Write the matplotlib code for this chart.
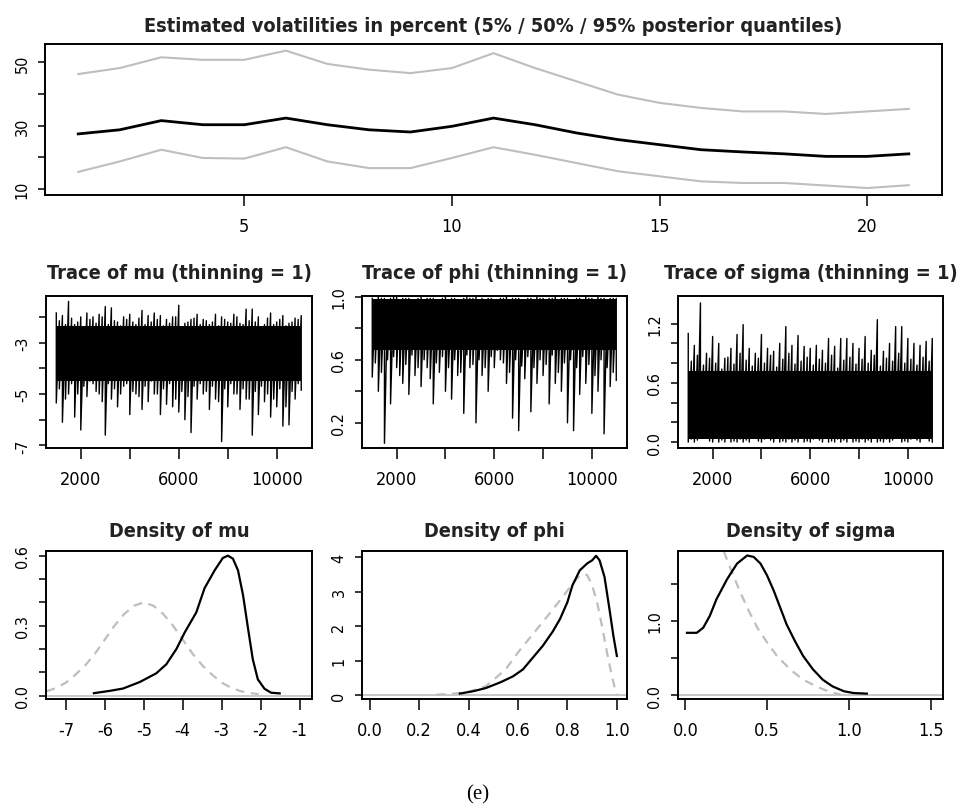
import numpy as np
import matplotlib
matplotlib.use('Agg')
import matplotlib.pyplot as plt
from matplotlib import font_manager

# the reference uses a narrow sans; take a condensed face if one is installed
names = {f.name for f in font_manager.fontManager.ttflist}
narrow = [n for n in ['Liberation Sans Narrow', 'DejaVu Sans Condensed'] if n in names]
plt.rcParams['font.family'] = narrow + ['DejaVu Sans']
plt.rcParams['font.stretch'] = 'condensed'
plt.rcParams['axes.unicode_minus'] = False

#%% Data
# volatility quantiles in percent, time points 1..21
vol_t = np.arange(1, 22)
vol_q05 = [15.4, 18.7, 22.4, 19.8, 19.6, 23.2, 18.7, 16.6, 16.6, 19.8, 23.2,
           20.8, 18.2, 15.6, 14.0, 12.4, 11.9, 11.9, 11.1, 10.3, 11.2]
vol_q50 = [27.4, 28.7, 31.6, 30.3, 30.3, 32.4, 30.3, 28.7, 28.0, 29.8, 32.4,
           30.3, 27.7, 25.6, 24.0, 22.4, 21.7, 21.1, 20.3, 20.3, 21.1]
vol_q95 = [46.3, 48.2, 51.6, 50.8, 50.8, 53.7, 49.5, 47.7, 46.6, 48.2, 52.9,
           48.2, 44.0, 39.8, 37.2, 35.6, 34.5, 34.5, 33.7, 34.5, 35.3]

# trace envelopes: max / min of the draws in each block of 125 iterations
trace_iter = np.arange(1000, 11001, 125)
mu_hi = [-1.85, -2.15, -1.95, -2.30, -1.40, -2.05, -2.30, -2.20, -2.00, -2.40,
         -1.85, -2.10, -2.00, -2.25, -1.90, -2.00, -1.60, -2.30, -1.65, -2.15,
         -2.20, -2.35, -2.00, -2.10, -1.90, -2.20, -2.30, -2.05, -1.75, -2.30,
         -1.95, -2.20, -1.85, -2.10, -1.95, -2.35, -2.10, -2.25, -2.00, -2.00,
         -1.55, -2.40, -2.25, -2.20, -2.10, -2.05, -1.90, -2.30, -2.10, -2.15,
         -2.30, -2.20, -1.90, -2.35, -2.00, -2.10, -2.20, -2.25, -1.90, -2.00,
         -2.25, -2.30, -1.70, -2.15, -1.70, -2.20, -2.00, -2.40, -2.30, -2.05,
         -1.85, -2.30, -2.20, -2.10, -1.95, -2.35, -2.25, -2.20, -2.05, -2.10,
         -1.95]
mu_lo = [-5.35, -4.80, -6.10, -5.20, -5.00, -4.60, -5.90, -5.00, -6.40, -4.70,
         -5.10, -4.50, -4.60, -4.90, -5.00, -5.30, -6.60, -4.60, -5.20, -4.80,
         -5.50, -5.00, -4.70, -4.60, -5.80, -4.90, -5.00, -5.10, -5.60, -4.70,
         -5.30, -4.50, -5.00, -5.00, -5.80, -4.80, -5.40, -4.60, -5.50, -5.20,
         -5.70, -4.90, -6.00, -5.10, -6.50, -4.70, -5.20, -4.60, -5.00, -4.90,
         -5.60, -4.70, -5.20, -5.30, -6.85, -4.80, -5.50, -4.60, -5.00, -5.00,
         -5.60, -4.80, -5.20, -5.20, -6.60, -4.90, -5.80, -4.70, -5.30, -5.00,
         -5.90, -5.20, -5.50, -4.80, -6.25, -5.50, -6.20, -4.90, -5.20, -4.60,
         -4.85]
phi_hi = [0.99, 0.98, 1.00, 0.99, 0.99, 0.97, 0.99, 1.00, 1.00, 0.98,
          0.99, 0.99, 0.99, 0.98, 0.97, 0.99, 1.00, 0.97, 0.99, 0.99,
          0.99, 0.98, 0.98, 0.99, 1.00, 0.98, 0.99, 0.99, 0.96, 0.98,
          0.99, 1.00, 0.99, 0.99, 1.00, 0.98, 0.99, 0.97, 0.99, 0.99,
          0.98, 0.98, 0.99, 0.99, 1.00, 0.98, 0.99, 0.99, 0.99, 0.97,
          0.98, 0.99, 0.99, 0.98, 1.00, 0.99, 0.99, 0.98, 0.99, 0.99,
          1.00, 0.98, 0.99, 0.99, 0.99, 0.96, 0.97, 0.99, 0.99, 0.98,
          1.00, 0.99, 0.99, 0.98, 1.00, 0.99, 0.99, 0.98, 0.99, 0.99,
          0.99]
phi_lo = [0.49, 0.58, 0.40, 0.52, 0.07, 0.60, 0.32, 0.62, 0.55, 0.50,
          0.45, 0.57, 0.38, 0.63, 0.50, 0.55, 0.43, 0.60, 0.55, 0.48,
          0.32, 0.58, 0.52, 0.62, 0.40, 0.55, 0.35, 0.60, 0.50, 0.52,
          0.26, 0.63, 0.55, 0.57, 0.20, 0.60, 0.50, 0.55, 0.40, 0.62,
          0.55, 0.66, 0.60, 0.58, 0.45, 0.52, 0.23, 0.60, 0.15, 0.56,
          0.48, 0.62, 0.27, 0.55, 0.45, 0.60, 0.50, 0.57, 0.32, 0.63,
          0.45, 0.52, 0.40, 0.58, 0.20, 0.60, 0.15, 0.55, 0.38, 0.62,
          0.45, 0.57, 0.26, 0.50, 0.40, 0.60, 0.13, 0.55, 0.43, 0.52,
          0.47]
sigma_hi = [1.10, 0.82, 0.98, 0.88, 1.41, 0.78, 0.90, 0.85, 1.07, 0.80,
            1.00, 0.74, 0.85, 0.86, 0.95, 0.79, 1.09, 0.90, 1.19, 0.83,
            0.95, 0.77, 0.90, 0.85, 1.09, 0.80, 0.95, 0.88, 0.92, 0.76,
            1.00, 0.84, 1.17, 0.90, 0.98, 0.79, 1.08, 0.82, 0.97, 0.86,
            0.95, 0.78, 0.98, 0.84, 0.93, 0.80, 1.05, 0.88, 0.97, 0.75,
            1.05, 0.83, 1.05, 0.86, 1.00, 0.79, 0.95, 0.84, 1.07, 0.80,
            0.93, 0.88, 1.24, 0.77, 0.92, 0.85, 1.00, 0.82, 1.17, 0.90,
            1.17, 0.80, 1.05, 0.84, 1.00, 0.78, 0.98, 0.86, 1.02, 0.82,
            1.05]
sigma_lo = [0.00, 0.03, 0.00, 0.02, 0.14, 0.05, 0.14, 0.01, 0.00, 0.04,
            0.00, 0.02, 0.00, 0.05, 0.00, 0.01, 0.00, 0.03, 0.00, 0.02,
            0.00, 0.04, 0.19, 0.01, 0.00, 0.03, 0.25, 0.02, 0.00, 0.05,
            0.00, 0.01, 0.00, 0.03, 0.00, 0.02, 0.00, 0.04, 0.00, 0.01,
            0.00, 0.03, 0.19, 0.02, 0.00, 0.05, 0.00, 0.01, 0.00, 0.03,
            0.00, 0.02, 0.00, 0.04, 0.00, 0.01, 0.00, 0.03, 0.00, 0.02,
            0.00, 0.05, 0.00, 0.01, 0.00, 0.03, 0.00, 0.02, 0.17, 0.04,
            0.00, 0.01, 0.00, 0.03, 0.34, 0.02, 0.00, 0.05, 0.20, 0.01,
            0.00]
# solid band where the draws overlap completely
mu_core = (-4.5, -2.35)
phi_core = (0.66, 0.985)
sigma_core = (0.03, 0.72)

# posterior (solid) and prior (dashed) densities
mu_post_x = [-6.28, -5.87, -5.53, -5.10, -4.68, -4.42, -4.16, -3.95, -3.65, -3.44, -3.18,
             -2.97, -2.84, -2.71, -2.58, -2.45, -2.32, -2.20, -2.07, -1.90, -1.73, -1.51]
mu_post_y = [0.010, 0.020, 0.030, 0.058, 0.095, 0.134, 0.200, 0.270, 0.357, 0.460, 0.537,
             0.590, 0.600, 0.587, 0.537, 0.430, 0.285, 0.155, 0.069, 0.029, 0.012, 0.009]
mu_prior_x = [-7.5, -7.25, -7.0, -6.75, -6.5, -6.25, -6.0, -5.75, -5.5, -5.25, -5.0,
              -4.75, -4.5, -4.25, -4.0, -3.75, -3.5, -3.25, -3.0, -2.75, -2.5, -2.25, -2.05]
mu_prior_y = [0.018, 0.032, 0.055, 0.090, 0.130, 0.180, 0.240, 0.300, 0.350, 0.385, 0.400,
              0.385, 0.350, 0.300, 0.240, 0.180, 0.130, 0.090, 0.055, 0.033, 0.018, 0.010, 0.006]
phi_post_x = [0.365, 0.42, 0.47, 0.53, 0.58, 0.62, 0.66, 0.70, 0.74, 0.77, 0.80,
              0.82, 0.85, 0.88, 0.90, 0.916, 0.93, 0.95, 0.97, 0.986, 1.0]
phi_post_y = [0.05, 0.12, 0.21, 0.38, 0.55, 0.75, 1.09, 1.43, 1.84, 2.21, 2.70,
              3.18, 3.62, 3.82, 3.91, 4.04, 3.91, 3.43, 2.50, 1.72, 1.14]
phi_prior_x = [0.27, 0.33, 0.40, 0.47, 0.55, 0.60, 0.66, 0.72, 0.78, 0.82,
               0.85, 0.868, 0.88, 0.90, 0.92, 0.94, 0.96, 0.98, 0.995, 1.0]
phi_prior_y = [0.02, 0.04, 0.10, 0.26, 0.75, 1.24, 1.77, 2.30, 2.84, 3.23,
               3.47, 3.52, 3.48, 3.18, 2.70, 2.00, 1.24, 0.55, 0.12, 0.0]
sigma_post_x = [0.01, 0.07, 0.11, 0.15, 0.19, 0.255, 0.316, 0.378, 0.418, 0.46, 0.50,
                0.54, 0.58, 0.62, 0.67, 0.72, 0.78, 0.84, 0.90, 0.97, 1.03, 1.11]
sigma_post_y = [0.84, 0.84, 0.91, 1.07, 1.29, 1.56, 1.77, 1.88, 1.86, 1.77, 1.61,
                1.41, 1.18, 0.95, 0.73, 0.53, 0.35, 0.21, 0.12, 0.054, 0.03, 0.022]
sigma_prior_x = [0.20, 0.245, 0.286, 0.337, 0.388, 0.44, 0.50, 0.56, 0.64, 0.72, 0.81, 0.89, 0.95]
sigma_prior_y = [2.13, 1.88, 1.65, 1.38, 1.135, 0.91, 0.71, 0.53, 0.35, 0.21, 0.11, 0.04, 0.01]

#%% Helpers
GRAY = '#bebebe'
W, H = 958, 812


def px_axes(fig, left, top, right, bottom):
    return fig.add_axes([left / W, 1 - bottom / H, (right - left) / W, (bottom - top) / H])


def style(ax, xticks, xlabels, yticks, ylabels):
    for s in ax.spines.values():
        s.set_linewidth(1.4)
    ax.set_xticks(xticks)
    ax.set_xticklabels(xlabels)
    ax.set_yticks(yticks)
    ax.set_yticklabels(ylabels, rotation=90, va='center', fontsize=11.5)
    ax.tick_params(axis='x', direction='out', length=8, width=1.1, pad=7.5, labelsize=13)
    ax.tick_params(axis='y', direction='out', length=4.7, width=1.1, pad=6.5)


def draw_trace(ax, hi, lo, core):
    ax.fill_between([trace_iter[0], trace_iter[-1]], core[0], core[1], color='black', lw=0)
    # one up-down stroke per block, like the draws jumping between extremes
    ys = np.ravel(np.column_stack([hi, lo]))
    ax.plot(np.repeat(trace_iter, 2), ys, color='black', lw=1.0)


def draw_density(ax, px, py, qx, qy):
    ax.axhline(0, color=GRAY, lw=1.2)
    ax.plot(qx, qy, color=GRAY, lw=1.6, ls=(0, (4, 3)))
    ax.plot(px, py, color='black', lw=1.6)


#%% Figure
fig = plt.figure(figsize=(W / 100, H / 100), dpi=100)
title_kw = dict(ha='center', va='center', fontsize=14.3, fontweight='bold', color='#222222')

# volatility panel
ax = px_axes(fig, 45, 45, 942, 196)
ax.plot(vol_t, vol_q95, color=GRAY, lw=1.5)
ax.plot(vol_t, vol_q05, color=GRAY, lw=1.5)
ax.plot(vol_t, vol_q50, color='black', lw=2)
ax.set_xlim(0.2, 21.8)
ax.set_ylim(8.1, 55.8)
style(ax, [5, 10, 15, 20], ['5', '10', '15', '20'],
      [10, 20, 30, 40, 50], ['10', '', '30', '', '50'])
fig.text(493 / W, 1 - 27 / H,
         'Estimated volatilities in percent (5% / 50% / 95% posterior quantiles)', **title_kw)

cols = [(46, 312), (362, 627), (678, 943)]
iter_ticks = [2000, 4000, 6000, 8000, 10000]
iter_labels = ['2000', '', '6000', '', '10000']

# traces
ax = px_axes(fig, cols[0][0], 297, cols[0][1], 449)
draw_trace(ax, mu_hi, mu_lo, mu_core)
ax.set_xlim(580, 11440)
ax.set_ylim(-7.1, -1.19)
style(ax, iter_ticks, iter_labels, [-7, -6, -5, -4, -3, -2], ['-7', '', '-5', '', '-3', ''])

ax = px_axes(fig, cols[1][0], 297, cols[1][1], 449)
draw_trace(ax, phi_hi, phi_lo, phi_core)
ax.set_xlim(580, 11440)
ax.set_ylim(0.04, 1.005)
style(ax, iter_ticks, iter_labels, [0.2, 0.4, 0.6, 0.8, 1.0], ['0.2', '', '0.6', '', '1.0'])

ax = px_axes(fig, cols[2][0], 297, cols[2][1], 449)
draw_trace(ax, sigma_hi, sigma_lo, sigma_core)
ax.set_xlim(580, 11440)
ax.set_ylim(-0.06, 1.48)
style(ax, iter_ticks, iter_labels, [0, 0.2, 0.4, 0.6, 0.8, 1.0, 1.2],
      ['0.0', '', '', '0.6', '', '', '1.2'])

for (l, r), name in zip(cols, ['mu', 'phi', 'sigma']):
    fig.text((l + r) / 2 / W, 1 - 274 / H, f'Trace of {name} (thinning = 1)', **title_kw)

# densities
ax = px_axes(fig, cols[0][0], 552, cols[0][1], 700)
draw_density(ax, mu_post_x, mu_post_y, mu_prior_x, mu_prior_y)
ax.set_xlim(-7.51, -0.68)
ax.set_ylim(-0.015, 0.62)
style(ax, [-7, -6, -5, -4, -3, -2, -1], ['-7', '-6', '-5', '-4', '-3', '-2', '-1'],
      [0, 0.1, 0.2, 0.3, 0.4, 0.5, 0.6], ['0.0', '', '', '0.3', '', '', '0.6'])

ax = px_axes(fig, cols[1][0], 552, cols[1][1], 700)
draw_density(ax, phi_post_x, phi_post_y, phi_prior_x, phi_prior_y)
ax.set_xlim(-0.031, 1.041)
ax.set_ylim(-0.107, 4.18)
style(ax, [0, 0.2, 0.4, 0.6, 0.8, 1.0], ['0.0', '0.2', '0.4', '0.6', '0.8', '1.0'],
      [0, 1, 2, 3, 4], ['0', '1', '2', '3', '4'])

ax = px_axes(fig, cols[2][0], 552, cols[2][1], 700)
draw_density(ax, sigma_post_x, sigma_post_y, sigma_prior_x, sigma_prior_y)
ax.set_xlim(-0.045, 1.576)
ax.set_ylim(-0.05, 1.94)
style(ax, [0, 0.5, 1.0, 1.5], ['0.0', '0.5', '1.0', '1.5'],
      [0, 0.5, 1.0, 1.5], ['0.0', '', '1.0', ''])

for (l, r), name in zip(cols, ['mu', 'phi', 'sigma']):
    fig.text((l + r) / 2 / W, 1 - 532 / H, f'Density of {name}', **title_kw)

fig.text(478 / W, 1 - 795 / H, '(e)', ha='center', va='center', fontsize=15,
         family=['Liberation Serif', 'DejaVu Serif'])

fig.savefig('out.png', dpi=100)
